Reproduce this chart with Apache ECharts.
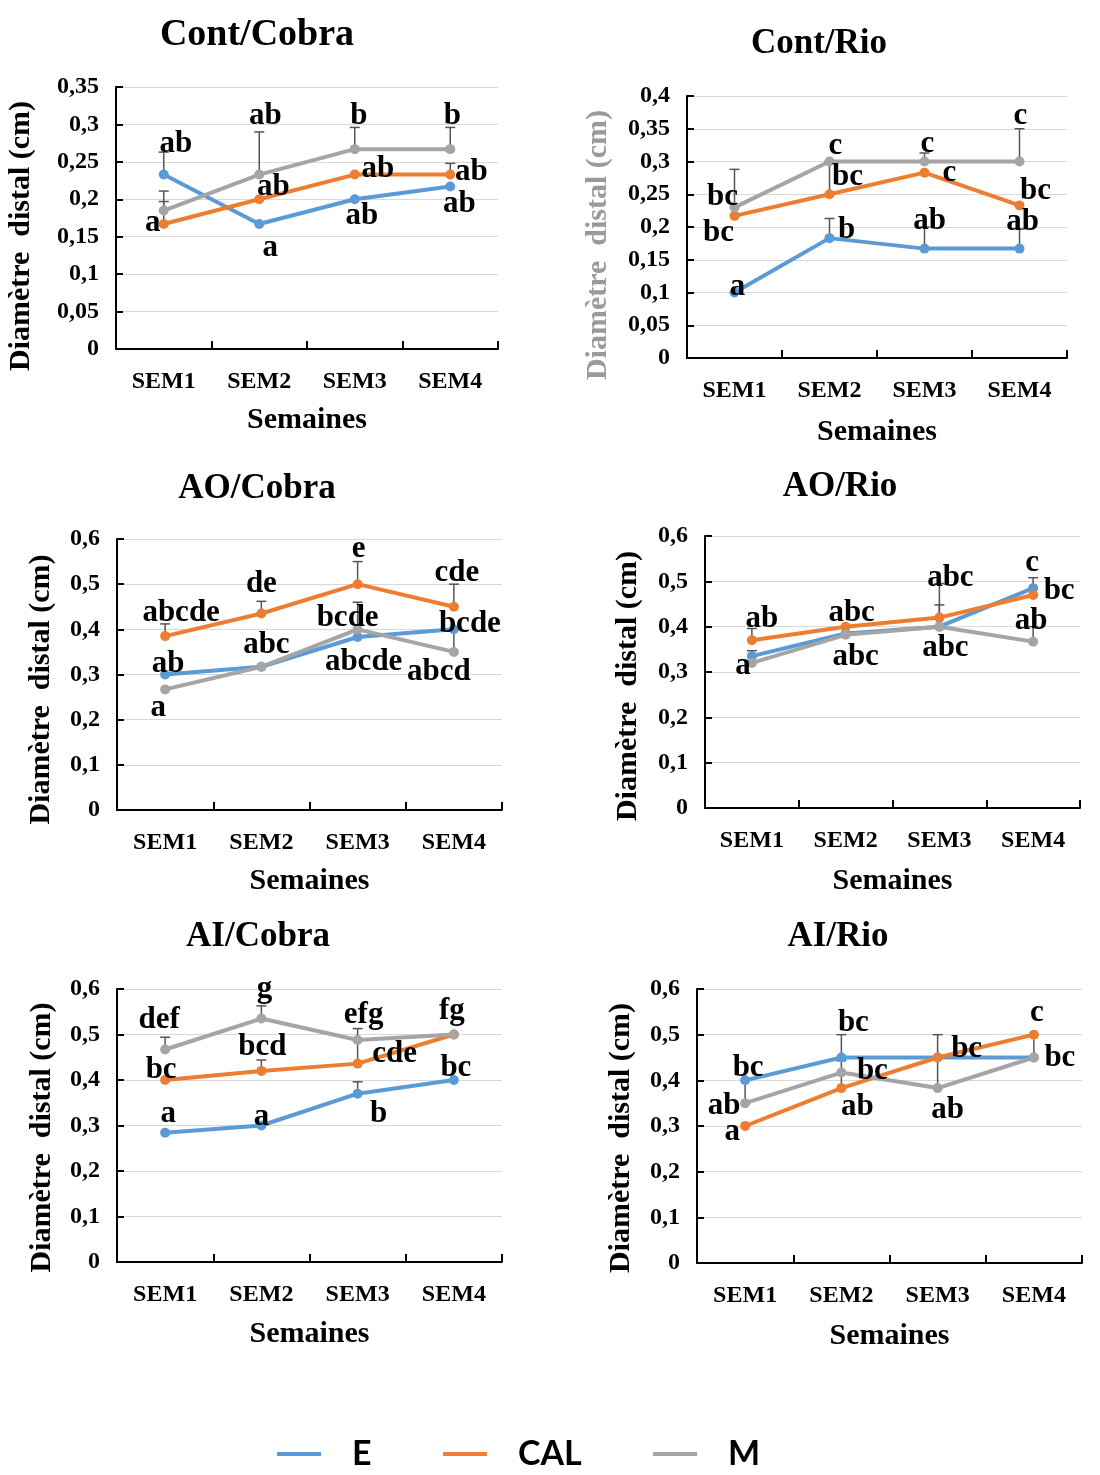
<!DOCTYPE html>
<html>
<head>
<meta charset="utf-8">
<script src="https://cdn.jsdelivr.net/npm/echarts@6/dist/echarts.min.js"></script>
<style>
  html, body { margin: 0; padding: 0; background: #fff; }
  #chart { width: 1100px; height: 1475px; }
</style>
</head>
<body>
<div id="chart"></div>
<script>
// Weeks on the x axis and the three treatment groups
const weeks = ['SEM1', 'SEM2', 'SEM3', 'SEM4'];
const groups = ['E', 'CAL', 'M'];
const panelTitles = ['Cont/Cobra', 'Cont/Rio', 'AO/Cobra', 'AO/Rio', 'AI/Cobra', 'AI/Rio'];
const yTitle = 'Diamètre  distal (cm)';
const xTitle = 'Semaines';

// Mean distal diameter (cm), upper error bar (cm) and significance letters
const contCobraE = [0.233, 0.167, 0.2, 0.217];
const contCobraCAL = [0.167, 0.2, 0.233, 0.233];
const contCobraM = [0.185, 0.233, 0.267, 0.267];
const contCobraErrE = [0.03, 0, 0, 0];
const contCobraErrCAL = [0.03, 0, 0, 0.015];
const contCobraErrM = [0.026, 0.057, 0.029, 0.029];
const contCobraLetE = ['ab', 'a', 'ab', 'ab'];
const contCobraLetCAL = ['a', 'ab', 'ab', 'ab'];
const contCobraLetM = ['', 'ab', 'b', 'b'];

const contRioE = [0.1, 0.183, 0.167, 0.167];
const contRioCAL = [0.217, 0.25, 0.283, 0.233];
const contRioM = [0.23, 0.3, 0.3, 0.3];
const contRioErrE = [0, 0.03, 0.033, 0.03];
const contRioErrCAL = [0, 0.05, 0, 0];
const contRioErrM = [0.058, 0, 0.013, 0.05];
const contRioLetE = ['a', 'b', 'ab', 'ab'];
const contRioLetCAL = ['bc', 'bc', 'c', 'bc'];
const contRioLetM = ['bc', 'c', 'c', 'c'];

const aoCobraE = [0.3, 0.317, 0.383, 0.4];
const aoCobraCAL = [0.385, 0.435, 0.5, 0.45];
const aoCobraM = [0.267, 0.317, 0.4, 0.35];
const aoCobraErrE = [0, 0, 0, 0];
const aoCobraErrCAL = [0.027, 0.027, 0.05, 0.05];
const aoCobraErrM = [0, 0, 0.06, 0.05];
const aoCobraLetE = ['ab', 'abc', 'abcde', 'bcde'];
const aoCobraLetCAL = ['abcde', 'de', 'e', 'cde'];
const aoCobraLetM = ['a', '', 'bcde', 'abcd'];

const aoRioE = [0.335, 0.385, 0.4, 0.485];
const aoRioCAL = [0.37, 0.4, 0.42, 0.47];
const aoRioM = [0.32, 0.382, 0.4, 0.367];
const aoRioErrE = [0.012, 0, 0.095, 0.023];
const aoRioErrCAL = [0.026, 0, 0.028, 0];
const aoRioErrM = [0, 0, 0, 0.033];
const aoRioLetE = ['', '', '', 'c'];
const aoRioLetCAL = ['ab', 'abc', 'abc', 'bc'];
const aoRioLetM = ['a', 'abc', 'abc', 'ab'];

const aiCobraE = [0.284, 0.3, 0.37, 0.4];
const aiCobraCAL = [0.4, 0.42, 0.436, 0.5];
const aiCobraM = [0.467, 0.535, 0.488, 0.5];
const aiCobraErrE = [0, 0, 0.026, 0];
const aiCobraErrCAL = [0, 0.024, 0.05, 0];
const aiCobraErrM = [0.027, 0.028, 0.025, 0];
const aiCobraLetE = ['a', 'a', 'b', 'bc'];
const aiCobraLetCAL = ['bc', 'bcd', 'cde', ''];
const aiCobraLetM = ['def', 'g', 'efg', 'fg'];

const aiRioE = [0.4, 0.45, 0.45, 0.45];
const aiRioCAL = [0.3, 0.383, 0.45, 0.5];
const aiRioM = [0.35, 0.417, 0.383, 0.45];
const aiRioErrE = [0, 0.05, 0, 0];
const aiRioErrCAL = [0, 0.06, 0, 0];
const aiRioErrM = [0.05, 0, 0.117, 0.05];
const aiRioLetE = ['bc', 'bc', '', ''];
const aiRioLetCAL = ['a', 'ab', 'bc', 'c'];
const aiRioLetM = ['ab', 'bc', 'ab', 'bc'];

// Per-panel series bundles (order follows panelTitles)
const panelMeans = [
  [contCobraE, contCobraCAL, contCobraM],
  [contRioE, contRioCAL, contRioM],
  [aoCobraE, aoCobraCAL, aoCobraM],
  [aoRioE, aoRioCAL, aoRioM],
  [aiCobraE, aiCobraCAL, aiCobraM],
  [aiRioE, aiRioCAL, aiRioM]
];
const panelErrors = [
  [contCobraErrE, contCobraErrCAL, contCobraErrM],
  [contRioErrE, contRioErrCAL, contRioErrM],
  [aoCobraErrE, aoCobraErrCAL, aoCobraErrM],
  [aoRioErrE, aoRioErrCAL, aoRioErrM],
  [aiCobraErrE, aiCobraErrCAL, aiCobraErrM],
  [aiRioErrE, aiRioErrCAL, aiRioErrM]
];
const panelLetters = [
  [contCobraLetE, contCobraLetCAL, contCobraLetM],
  [contRioLetE, contRioLetCAL, contRioLetM],
  [aoCobraLetE, aoCobraLetCAL, aoCobraLetM],
  [aoRioLetE, aoRioLetCAL, aoRioLetM],
  [aiCobraLetE, aiCobraLetCAL, aiCobraLetM],
  [aiRioLetE, aiRioLetCAL, aiRioLetM]
];

// ---- presentation ----
const colors = { E: '#5B9BD5', CAL: '#ED7D31', M: '#A5A5A5' };
const serif = '"Liberation Serif", "Times New Roman", serif';
const sans = '"Liberation Sans Narrow", Lato, "Noto Sans", sans-serif';

// Plot boxes, axis ranges and text placement for each panel
const panelLayout = [
  { grid: { left: 116, top: 87, width: 382, height: 262 }, yMax: 0.35, yStep: 0.05, titleX: 257, titleTop: 16, titleSize: 38, nameGap: 80, nameShift: 18, xNameGap: 56, nameColor: '#000' },
  { grid: { left: 687, top: 96, width: 380, height: 262 }, yMax: 0.4, yStep: 0.05, titleX: 819, titleTop: 26, titleSize: 35, nameGap: 74, nameShift: 18, xNameGap: 59, nameColor: '#9a9a9a' },
  { grid: { left: 117, top: 539, width: 385, height: 271 }, yMax: 0.6, yStep: 0.1, titleX: 257, titleTop: 471, titleSize: 35, nameGap: 61, nameShift: 15, xNameGap: 56, nameColor: '#000' },
  { grid: { left: 705, top: 536, width: 375, height: 272 }, yMax: 0.6, yStep: 0.1, titleX: 840, titleTop: 469, titleSize: 35, nameGap: 62, nameShift: 14, xNameGap: 58, nameColor: '#000' },
  { grid: { left: 117, top: 989, width: 385, height: 273 }, yMax: 0.6, yStep: 0.1, titleX: 258, titleTop: 919, titleSize: 35, nameGap: 60, nameShift: 12, xNameGap: 57, nameColor: '#000' },
  { grid: { left: 697, top: 989, width: 385, height: 274 }, yMax: 0.6, yStep: 0.1, titleX: 838, titleTop: 919, titleSize: 35, nameGap: 61, nameShift: 12, xNameGap: 58, nameColor: '#000' }
];

// Pixel offsets of each letter label from its point [panel][group][week]
const letterOffsets = [
  [
    [[12, -31], [11, 24], [7, 17], [9, 17]],
    [[-11, -1], [14, -12], [23, -6], [21, -3]],
    [null, [6, -59], [4, -33], [2, -33]]
  ],
  [
    [[3, -6], [17, -8], [5, -28], [3, -27]],
    [[-16, 17], [18, -17], [25, 0], [16, -14]],
    [[-12, -10], [6, -16], [3, -18], [1, -46]]
  ],
  [
    [[3, -11], [5, -22], [6, 25], [16, -5]],
    [[16, -23], [0, -30], [1, -35], [3, -34]],
    [[-7, 19], null, [-10, -11], [-15, 20]]
  ],
  [
    [null, null, null, [-1, -25]],
    [[10, -21], [6, -14], [11, -40], [26, -4]],
    [[-9, 3], [10, 22], [6, 21], [-2, -21]]
  ],
  [
    [[3, -19], [0, -9], [21, 20], [2, -12]],
    [[-4, -10], [1, -24], [37, -10], null],
    [[-6, -30], [3, -30], [6, -25], [-2, -24]]
  ],
  [
    [[3, -12], [12, -35], null, null],
    [[-13, 6], [16, 19], [29, -9], [3, -22]],
    [[-21, 3], [31, -2], [10, 22], [26, 0]]
  ]
];

function decimalComma(v) {
  if (v === 0) return '0';
  return String(Math.round(v * 100) / 100).replace('.', ',');
}

function errorBarItem(params, api) {
  const idx = api.value(0);
  const v = api.value(1);
  const e = api.value(2);
  if (!e) return null;
  const base = api.coord([idx, v]);
  const tip = api.coord([idx, v + e]);
  const style = { stroke: '#555555', lineWidth: 1.5 };
  return {
    type: 'group',
    children: [
      { type: 'line', shape: { x1: base[0], y1: base[1], x2: tip[0], y2: tip[1] }, style: style },
      { type: 'line', shape: { x1: tip[0] - 5, y1: tip[1], x2: tip[0] + 5, y2: tip[1] }, style: style }
    ]
  };
}

const titles = [], grids = [], xAxes = [], yAxes = [], series = [];

panelLayout.forEach((lay, p) => {
  titles.push({
    text: panelTitles[p],
    left: lay.titleX,
    top: lay.titleTop,
    textAlign: 'center',
    padding: 0,
    textStyle: { fontFamily: serif, fontWeight: 'bold', fontSize: lay.titleSize, color: '#000' }
  });
  grids.push(Object.assign({ containLabel: false }, lay.grid));
  xAxes.push({
    type: 'category',
    gridIndex: p,
    data: weeks,
    boundaryGap: true,
    axisLine: { lineStyle: { color: '#000', width: 2 } },
    axisTick: { show: true, inside: true, length: 8, lineStyle: { color: '#000', width: 2 } },
    axisLabel: { margin: 21, fontFamily: serif, fontWeight: 'bold', fontSize: 24, color: '#000' },
    splitLine: { show: false },
    name: xTitle,
    nameLocation: 'middle',
    nameGap: lay.xNameGap,
    nameTextStyle: { fontFamily: serif, fontWeight: 'bold', fontSize: 30, color: '#000' }
  });
  yAxes.push({
    type: 'value',
    gridIndex: p,
    min: 0,
    max: lay.yMax,
    interval: lay.yStep,
    axisLine: { show: true, lineStyle: { color: '#000', width: 2 } },
    axisTick: { show: true, inside: true, length: 7, lineStyle: { color: '#000', width: 2 } },
    axisLabel: { margin: 17, fontFamily: serif, fontWeight: 'bold', fontSize: 24, color: '#000', formatter: decimalComma },
    splitLine: { show: true, lineStyle: { color: '#d9d9d9', width: 1 } },
    name: yTitle,
    nameLocation: 'middle',
    nameGap: lay.nameGap,
    nameTextStyle: {
      fontFamily: serif, fontWeight: 'bold', fontSize: 30, color: lay.nameColor,
      padding: [0, lay.nameShift * 2, 0, 0]
    }
  });

  groups.forEach((g, s) => {
    const means = panelMeans[p][s];
    const errs = panelErrors[p][s];
    const letters = panelLetters[p][s];
    const offsets = letterOffsets[p][s];

    series.push({
      type: 'custom',
      xAxisIndex: p,
      yAxisIndex: p,
      z: 1,
      silent: true,
      renderItem: errorBarItem,
      encode: { x: 0, y: 1 },
      data: means.map((v, i) => [i, v, errs[i]])
    });

    series.push({
      name: g,
      type: 'line',
      xAxisIndex: p,
      yAxisIndex: p,
      z: 2,
      symbol: 'circle',
      symbolSize: 10,
      lineStyle: { color: colors[g], width: 4 },
      itemStyle: { color: colors[g] },
      emphasis: { disabled: true },
      data: means.map((v, i) => ({
        value: v,
        label: {
          show: letters[i] !== '',
          formatter: letters[i],
          position: 'inside',
          offset: offsets[i] || [0, 0]
        }
      })),
      label: {
        fontFamily: serif,
        fontWeight: 'bold',
        fontSize: 31,
        color: '#000',
        align: 'center',
        verticalAlign: 'middle'
      }
    });
  });
});

// One legend per entry so each sits at its own spot along the bottom
const legendSpots = [
  { name: 'E', left: 277, padTop: 0 },
  { name: 'CAL', left: 443, padTop: 0 },
  { name: 'M', left: 653, padTop: 12 }
];
const legends = legendSpots.map(l => ({
  data: [l.name],
  left: l.left,
  top: 1437 - l.padTop / 2,
  padding: 0,
  icon: 'rect',
  itemWidth: 44,
  itemHeight: 4,
  selectedMode: false,
  textStyle: {
    fontFamily: sans, fontWeight: 'bold', fontSize: 34, lineHeight: 34, color: '#000',
    padding: [l.padTop, 0, 0, 26]
  }
}));

const chart = echarts.init(document.getElementById('chart'), null, { renderer: 'canvas' });
chart.setOption({
  backgroundColor: '#fff',
  animation: false,
  title: titles,
  grid: grids,
  xAxis: xAxes,
  yAxis: yAxes,
  legend: legends,
  series: series
});
</script>
</body>
</html>
